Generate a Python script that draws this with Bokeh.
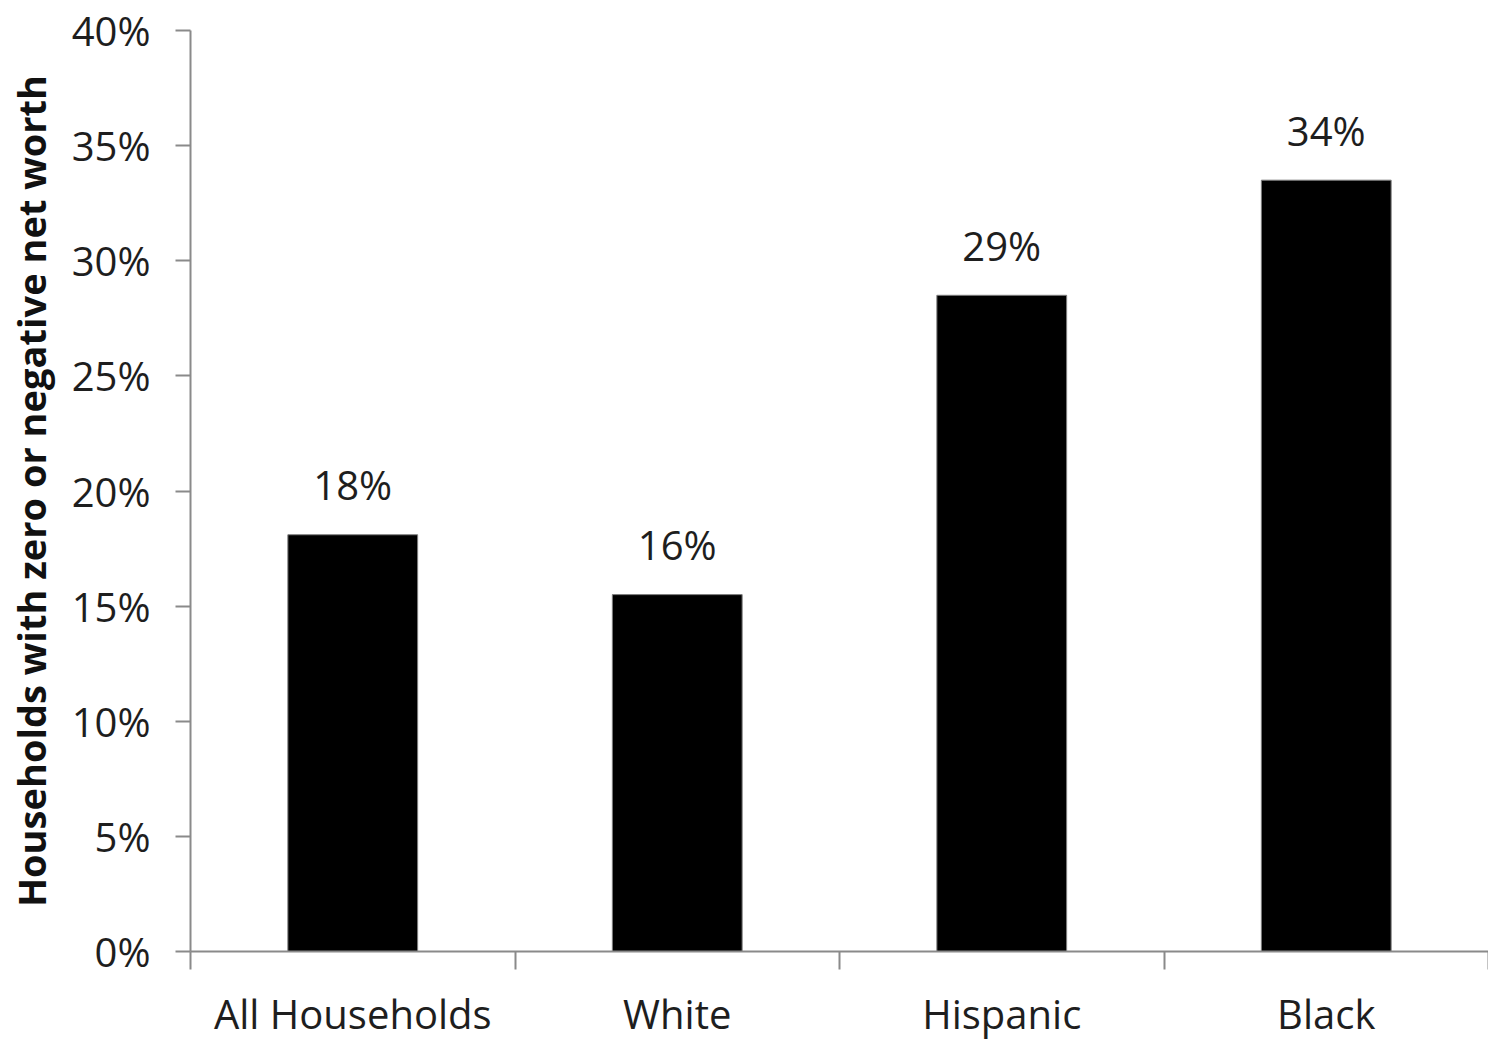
from bokeh.plotting import figure
from bokeh.models import FixedTicker, PrintfTickFormatter, ColumnDataSource, Range1d
from bokeh.core.properties import value
from bokeh.embed import file_html
from bokeh.resources import INLINE

categories = ["All Households", "White", "Hispanic", "Black"]
shares = [18.1, 15.5, 28.5, 33.5]
share_labels = ["18%", "16%", "29%", "34%"]
y_ticks = [0, 5, 10, 15, 20, 25, 30, 35, 40]

FONT = "Open Sans"
AXIS_COLOR = "#8a8a8a"
TEXT_COLOR = "#1e1e1e"

xpos = [i + 0.5 for i in range(len(categories))]
src = ColumnDataSource(dict(x=xpos, y=shares, lab=share_labels))

p = figure(width=1488, height=1043, output_backend="svg", toolbar_location=None,
           x_range=Range1d(0, len(categories)), y_range=Range1d(0, 40),
           min_border_left=190, min_border_top=30, min_border_bottom=80,
           min_border_right=0)
p.outline_line_color = None
p.xgrid.visible = False
p.ygrid.visible = False

p.vbar(x="x", top="y", width=0.4, bottom=0, source=src,
       fill_color="black", line_color="#7f7f7f", line_width=1)

p.text(x="x", y="y", text="lab", source=src, text_align="center",
       text_baseline="alphabetic", y_offset=-50, text_font=value(FONT),
       text_font_size="40px", text_color=TEXT_COLOR)

# x axis: ticks between categories, names centred under the bars
xa = p.xaxis[0]
xa.ticker = FixedTicker(ticks=xpos, minor_ticks=list(range(len(categories) + 1)))
xa.major_label_overrides = {x: c for x, c in zip(xpos, categories)}
xa.major_tick_out = 0
xa.major_tick_in = 0
xa.minor_tick_out = 18
xa.minor_tick_in = 0
xa.minor_tick_line_color = AXIS_COLOR
xa.minor_tick_line_width = 2
xa.axis_line_color = AXIS_COLOR
xa.axis_line_width = 2
xa.major_label_text_font = FONT
xa.major_label_text_font_size = "40px"
xa.major_label_text_color = TEXT_COLOR
xa.major_label_standoff = 16
xa.axis_label_standoff = 0

# y axis
ya = p.yaxis[0]
ya.ticker = FixedTicker(ticks=y_ticks, minor_ticks=[])
ya.formatter = PrintfTickFormatter(format="%d%%")
ya.major_tick_out = 15
ya.major_tick_in = 0
ya.major_tick_line_color = AXIS_COLOR
ya.major_tick_line_width = 2
ya.axis_line_color = AXIS_COLOR
ya.axis_line_width = 2
ya.major_label_text_font = FONT
ya.major_label_text_font_size = "40px"
ya.major_label_text_color = TEXT_COLOR
ya.major_label_standoff = 25
ya.axis_label = "Households with zero or negative net worth"
ya.axis_label_text_font = FONT
ya.axis_label_text_font_style = "bold"
ya.axis_label_text_font_size = "38px"
ya.axis_label_text_color = "#111111"
ya.axis_label_standoff = 12

open("out.html", "w").write(file_html(p, INLINE))
